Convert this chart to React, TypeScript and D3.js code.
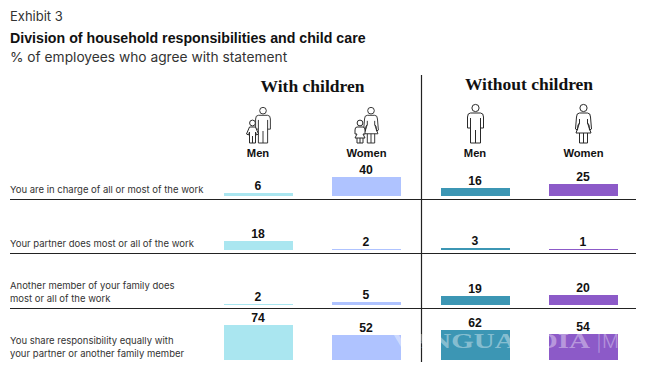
import React from "react";
import * as d3 from "d3";

const W = 651, H = 385;
const rowLabels = [
  ["You are in charge of all or most of the work"],
  ["Your partner does most or all of the work"],
  ["Another member of your family does", "most or all of the work"],
  ["You share responsibility equally with", "your partner or another family member"],
];
const menWith = [6, 18, 2, 74];
const womenWith = [40, 2, 5, 52];
const menWithout = [16, 3, 19, 62];
const womenWithout = [25, 1, 20, 54];
const seriesValues = [menWith, womenWith, menWithout, womenWithout];
const seriesColors = ["#aae6f0", "#afc3ff", "#3c96b4", "#8c5ac8"];
const seriesNames = ["Men", "Women", "Men", "Women"];
const barLefts = [224, 332, 441, 549];
const barWidth = 69;
const baselines = [196, 250, 305, 360];
const ruleYs = [199.5, 253.5, 308.5];

const scaleH = d3.scaleLinear().domain([0, 74]).range([0, 35]);
const h = (v: number) => Math.ceil(scaleH(v));
const sans = "Inter, 'Liberation Sans', sans-serif";
const bold = "'Liberation Sans', Arial, sans-serif";
const serif = "'Liberation Serif', serif";

function Adult({ x, y, woman, height = 39 }: { x: number; y: number; woman?: boolean; height?: number }) {
  const body = woman
    ? "M-4 9 Q-7 9 -7 13 L-8 25 L-6 26 L-5.5 21 L-4 19 M4 19 L5.5 21 L6 26 L8 25 L7 13 Q7 9 4 9 L-4 9 M-4 15 L-4 19 L-7.5 29 L7.5 29 L4 19 L4 15 M-4 29 L-4 39 L4 39 L4 29 M0 29 L0 39"
    : "M-5 9 Q-8 9 -8 13 L-8 24 L-5 24 L-5 14 M-5 24 L-5 39 L5 39 L5 14 M5 24 L8 24 L8 13 Q8 9 5 9 L-5 9 M0 26 L0 39";
  const k = height / 39;
  return (
    <g transform={`translate(${x},${y}) scale(${k})`} fill="none" stroke="#2a2a2a" strokeWidth={1}>
      <circle cx={0} cy={4} r={3.6} />
      <path d={body} />
    </g>
  );
}

function Child({ x, y, woman }: { x: number; y: number; woman?: boolean }) {
  const body = woman
    ? "M-3 7 Q-5 7 -5 10 L-5 14 L-3 14 L-5 18 L5 18 L3 14 L5 14 L5 10 Q5 7 3 7 Z M-3 18 L-3 23 L3 23 L3 18 M0 18 L0 23"
    : "M-3 7 L3 7 L6 14 L4 15 L3 12 L3 23 L-3 23 L-3 12 L-4 15 L-6 14 Z M0 16 L0 23";
  return (
    <g transform={`translate(${x},${y})`} fill="#fff" stroke="#2a2a2a" strokeWidth={1}>
      <circle cx={0} cy={3} r={2.9} />
      <path d={body} />
    </g>
  );
}

export default function App() {
  return (
    <svg width={W} height={H} style={{ position: "absolute", left: 0, top: 0, background: "#fff" }}>
      <text x={10} y={21} fontFamily={sans} fontSize={13} fill="#333">Exhibit 3</text>
      <text x={10} y={43} fontFamily={bold} fontSize={14.2} fontWeight={700} fill="#111">Division of household responsibilities and child care</text>
      <text x={10} y={62} fontFamily={sans} fontSize={13.75} fill="#333">% of employees who agree with statement</text>

      <text x={312.5} y={92} textAnchor="middle" fontFamily={serif} fontWeight={700} fontSize={17.5} fill="#111">With children</text>
      <text x={529} y={90} textAnchor="middle" fontFamily={serif} fontWeight={700} fontSize={17.5} fill="#111">Without children</text>

      <Adult x={263} y={107} height={36} />
      <Child x={252.5} y={120} />
      <Adult x={371} y={107} height={36} woman />
      <Child x={360} y={120} woman />
      <Adult x={475.5} y={104} />
      <Adult x={583.5} y={104} woman />

      {seriesNames.map((n, i) => (
        <text key={i} x={[258, 366.5, 475, 583.5][i]} y={157} textAnchor="middle" fontFamily={bold} fontWeight={700} fontSize={11.2} fill="#111">{n}</text>
      ))}

      {ruleYs.map((y) => (
        <line key={y} x1={10} x2={636} y1={y} y2={y} stroke="#222" strokeWidth={1} />
      ))}
      <line x1={421.5} x2={421.5} y1={75} y2={362} stroke="#222" strokeWidth={1.2} />

      {rowLabels.map((lines, r) =>
        lines.map((t, j) => (
          <text key={t} x={10} y={(r === 0 ? 193 : r === 1 ? 247 : r === 2 ? 289 : 344) + j * 13.2} fontFamily={sans} fontSize={9.5} fill="#333">{t}</text>
        ))
      )}

      {seriesValues.map((vals, s) =>
        vals.map((v, r) => (
          <g key={`${s}-${r}`}>
            <rect x={barLefts[s]} width={barWidth} y={baselines[r] - h(v)} height={h(v)} fill={seriesColors[s]} />
            <text x={barLefts[s] + barWidth / 2 - 0.5} y={baselines[r] - h(v) - 3} textAnchor="middle" fontFamily={bold} fontWeight={700} fontSize={12.2} fill="#111">{v}</text>
          </g>
        ))
      )}

      <text x={392} y={348} fontFamily={serif} fontWeight={700} fontSize={21} fill="#fff" fillOpacity={0.4} textLength={198} lengthAdjust="spacingAndGlyphs">VANGUARDIA</text>
      <text x={596} y={348} fontFamily={sans} fontSize={19} fontWeight={300} fill="#fff" fillOpacity={0.36}>|MX</text>
    </svg>
  );
}
